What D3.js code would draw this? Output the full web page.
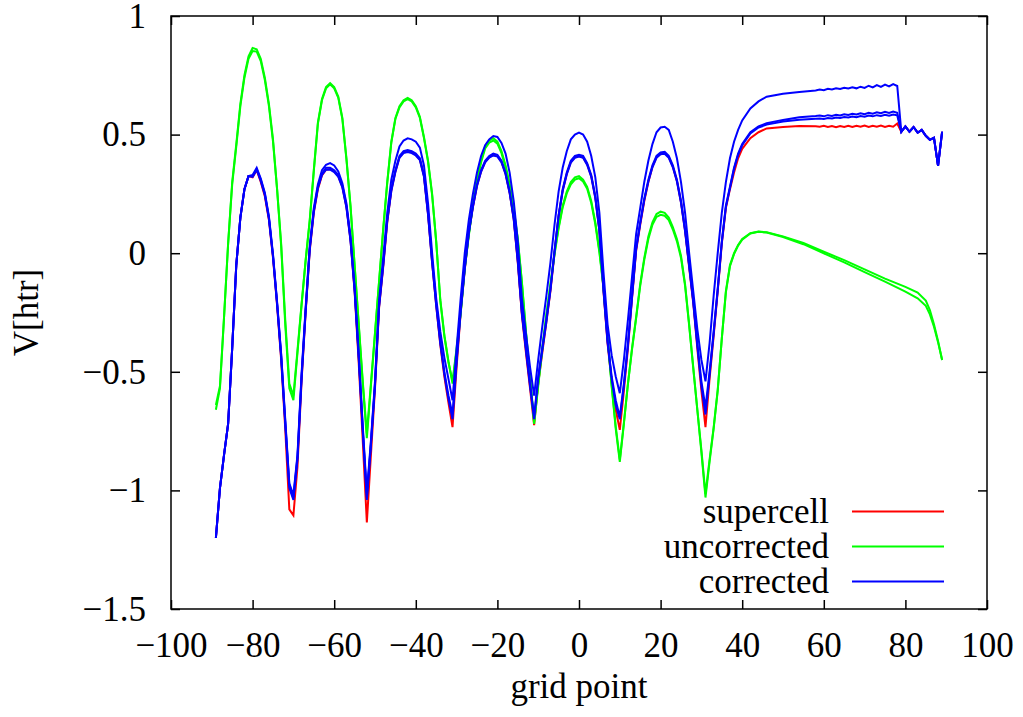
<!DOCTYPE html>
<html>
<head>
<meta charset="utf-8">
<script src="https://cdn.jsdelivr.net/npm/d3@7"></script>
<style>
  body { margin: 0; background: #fff; }
  text { font-family: "Liberation Serif", "Times New Roman", serif; }
</style>
</head>
<body>
<svg id="chart" width="1023" height="717"></svg>
<script>
// grid points -89..40, one value per point
var gridWave = d3.range(-89, 41);

var redWave = [
  -1.20, -0.99, -0.85, -0.72, -0.40, -0.05, 0.15, 0.27, 0.325, 0.32,
  0.35, 0.30, 0.24, 0.14, -0.02, -0.22, -0.45, -0.74, -1.08, -1.105,
  -0.90, -0.54, -0.25, 0.01, 0.17, 0.27, 0.328, 0.352, 0.355, 0.345,
  0.325, 0.28, 0.195, 0.055, -0.16, -0.46, -0.79, -1.135, -0.85, -0.57,
  -0.23, -0.06, 0.13, 0.265, 0.345, 0.405, 0.425, 0.43, 0.425, 0.415,
  0.395, 0.325, 0.165, -0.04, -0.22, -0.385, -0.52, -0.63, -0.733, -0.48,
  -0.25, -0.07, 0.085, 0.195, 0.285, 0.345, 0.385, 0.405, 0.415, 0.41,
  0.385, 0.335, 0.255, 0.145, -0.04, -0.26, -0.42, -0.57, -0.725, -0.55,
  -0.42, -0.29, -0.16, 0.0, 0.155, 0.265, 0.335, 0.385, 0.405, 0.41,
  0.405, 0.375, 0.325, 0.235, 0.095, -0.16, -0.38, -0.54, -0.66, -0.745,
  -0.58, -0.40, -0.19, 0.01, 0.12, 0.22, 0.30, 0.365, 0.405, 0.42,
  0.422, 0.405, 0.365, 0.305, 0.215, 0.095, -0.06, -0.21, -0.40, -0.58,
  -0.733, -0.53, -0.35, -0.16, 0.04, 0.19, 0.27, 0.34, 0.40, 0.44
];

var greenWaveA = [
  -0.66, -0.57, -0.27, 0.04, 0.30, 0.46, 0.63, 0.75, 0.83, 0.865,
  0.86, 0.82, 0.74, 0.63, 0.48, 0.27, 0.03, -0.30, -0.57, -0.62,
  -0.42, -0.22, -0.03, 0.14, 0.35, 0.55, 0.65, 0.70, 0.717, 0.70,
  0.66, 0.57, 0.40, 0.20, -0.05, -0.30, -0.55, -0.78, -0.56, -0.34,
  -0.12, 0.10, 0.30, 0.47, 0.57, 0.62, 0.645, 0.655, 0.645, 0.62,
  0.575, 0.49, 0.39, 0.25, 0.05, -0.20, -0.35, -0.46, -0.54, -0.40,
  -0.25, -0.06, 0.08, 0.21, 0.31, 0.39, 0.45, 0.475, 0.485, 0.47,
  0.43, 0.37, 0.29, 0.19, 0.06, -0.12, -0.33, -0.52, -0.71, -0.55,
  -0.40, -0.26, -0.13, 0.0, 0.11, 0.20, 0.26, 0.30, 0.32, 0.325,
  0.31, 0.28, 0.22, 0.13, 0.01, -0.14, -0.35, -0.56, -0.74, -0.88,
  -0.72, -0.55, -0.40, -0.27, -0.13, -0.02, 0.07, 0.13, 0.165, 0.175,
  0.17, 0.15, 0.11, 0.06, -0.01, -0.13, -0.30, -0.48, -0.66, -0.84,
  -1.03, -0.88, -0.74, -0.58, -0.36, -0.16, -0.05, 0.0, 0.035, 0.06
];

var greenWaveB = [
  -0.64, -0.56, -0.27, 0.04, 0.29, 0.45, 0.62, 0.74, 0.82, 0.852,
  0.85, 0.81, 0.73, 0.62, 0.47, 0.27, 0.04, -0.28, -0.55, -0.60,
  -0.41, -0.215, -0.03, 0.135, 0.345, 0.545, 0.645, 0.695, 0.712, 0.695,
  0.655, 0.565, 0.395, 0.195, -0.05, -0.295, -0.54, -0.76, -0.55, -0.335,
  -0.12, 0.098, 0.296, 0.466, 0.566, 0.615, 0.64, 0.65, 0.64, 0.615,
  0.57, 0.485, 0.385, 0.245, 0.048, -0.195, -0.345, -0.455, -0.55, -0.41,
  -0.255, -0.065, 0.075, 0.205, 0.303, 0.382, 0.442, 0.466, 0.475, 0.462,
  0.422, 0.363, 0.284, 0.185, 0.056, -0.125, -0.335, -0.525, -0.72, -0.56,
  -0.405, -0.265, -0.135, -0.005, 0.104, 0.193, 0.252, 0.29, 0.31, 0.316,
  0.302, 0.272, 0.212, 0.122, 0.003, -0.145, -0.35, -0.555, -0.73, -0.87,
  -0.715, -0.55, -0.405, -0.275, -0.138, -0.028, 0.06, 0.12, 0.153, 0.162,
  0.158, 0.14, 0.10, 0.05, -0.02, -0.138, -0.305, -0.485, -0.66, -0.83,
  -1.015, -0.87, -0.735, -0.575, -0.36, -0.165, -0.055, -0.004, 0.032, 0.057
];

var blueWaveTop = [
  -1.20, -0.99, -0.85, -0.72, -0.40, -0.05, 0.15, 0.27, 0.325, 0.33,
  0.36, 0.315, 0.255, 0.155, -0.005, -0.205, -0.425, -0.70, -0.97, -1.02,
  -0.85, -0.51, -0.23, 0.03, 0.19, 0.29, 0.35, 0.373, 0.38, 0.37,
  0.345, 0.295, 0.21, 0.07, -0.14, -0.42, -0.73, -1.01, -0.79, -0.54,
  -0.20, -0.02, 0.17, 0.31, 0.39, 0.45, 0.475, 0.484, 0.48, 0.47,
  0.445, 0.37, 0.21, 0.0, -0.19, -0.33, -0.44, -0.53, -0.62, -0.40,
  -0.19, 0.0, 0.14, 0.25, 0.34, 0.41, 0.455, 0.48, 0.494, 0.49,
  0.465, 0.42, 0.34, 0.22, 0.05, -0.19, -0.34, -0.48, -0.60, -0.45,
  -0.31, -0.18, -0.04, 0.12, 0.26, 0.36, 0.43, 0.48, 0.50, 0.508,
  0.50, 0.47, 0.41, 0.32, 0.17, -0.08, -0.30, -0.43, -0.52, -0.59,
  -0.45, -0.28, -0.10, 0.08, 0.19, 0.30, 0.39, 0.46, 0.51, 0.53,
  0.533, 0.52, 0.47, 0.40, 0.30, 0.17, 0.0, -0.16, -0.32, -0.45,
  -0.54, -0.38, -0.18, 0.0, 0.17, 0.30, 0.40, 0.47, 0.52, 0.56
];

var blueWaveLow1 = [
  -1.20, -0.99, -0.85, -0.72, -0.40, -0.05, 0.15, 0.27, 0.325, 0.325,
  0.355, 0.31, 0.25, 0.15, -0.01, -0.21, -0.43, -0.71, -0.98, -1.03,
  -0.86, -0.52, -0.24, 0.02, 0.18, 0.28, 0.335, 0.36, 0.36, 0.35,
  0.33, 0.285, 0.20, 0.06, -0.15, -0.43, -0.74, -1.03, -0.80, -0.55,
  -0.22, -0.05, 0.14, 0.27, 0.35, 0.41, 0.43, 0.435, 0.43, 0.42,
  0.40, 0.33, 0.17, -0.03, -0.21, -0.37, -0.50, -0.60, -0.68, -0.45,
  -0.24, -0.06, 0.09, 0.20, 0.29, 0.35, 0.39, 0.41, 0.42, 0.415,
  0.39, 0.34, 0.26, 0.15, -0.03, -0.25, -0.40, -0.55, -0.69, -0.52,
  -0.40, -0.28, -0.15, 0.01, 0.16, 0.27, 0.34, 0.39, 0.41, 0.415,
  0.41, 0.38, 0.33, 0.24, 0.10, -0.15, -0.37, -0.52, -0.62, -0.69,
  -0.55, -0.38, -0.18, 0.02, 0.13, 0.23, 0.31, 0.37, 0.41, 0.425,
  0.427, 0.41, 0.37, 0.31, 0.22, 0.10, -0.05, -0.20, -0.38, -0.54,
  -0.65, -0.50, -0.33, -0.15, 0.05, 0.20, 0.28, 0.36, 0.42, 0.46
];

var blueWaveLow2 = [
  -1.20, -0.99, -0.85, -0.72, -0.40, -0.05, 0.15, 0.27, 0.325, 0.322,
  0.352, 0.305, 0.245, 0.145, -0.015, -0.215, -0.44, -0.72, -0.99, -1.04,
  -0.87, -0.53, -0.245, 0.015, 0.175, 0.275, 0.33, 0.352, 0.352, 0.342,
  0.322, 0.277, 0.192, 0.052, -0.155, -0.44, -0.75, -1.04, -0.81, -0.56,
  -0.225, -0.055, 0.135, 0.262, 0.342, 0.402, 0.422, 0.427, 0.422, 0.412,
  0.392, 0.322, 0.162, -0.04, -0.22, -0.38, -0.51, -0.615, -0.70, -0.46,
  -0.245, -0.065, 0.085, 0.195, 0.283, 0.343, 0.383, 0.403, 0.412, 0.407,
  0.383, 0.333, 0.253, 0.143, -0.035, -0.255, -0.41, -0.56, -0.70, -0.53,
  -0.41, -0.29, -0.155, 0.005, 0.155, 0.262, 0.332, 0.382, 0.402, 0.407,
  0.402, 0.372, 0.322, 0.232, 0.093, -0.155, -0.375, -0.53, -0.64, -0.70,
  -0.56, -0.39, -0.185, 0.015, 0.125, 0.225, 0.302, 0.362, 0.402, 0.417,
  0.419, 0.402, 0.362, 0.302, 0.212, 0.092, -0.055, -0.205, -0.39, -0.56,
  -0.68, -0.515, -0.34, -0.155, 0.045, 0.195, 0.275, 0.355, 0.415, 0.455
];

// tails beyond grid point 40
var tailBlueX = [42, 44, 46, 50, 54, 58,
  59, 60, 61, 62, 63, 64, 65, 66, 67, 68,
  69, 70, 71, 72, 73, 74, 75, 76, 77, 78,
  79, 80, 81, 82, 83, 84, 85, 86, 87, 88, 89];
var sharedEnd = [0.512, 0.535, 0.512, 0.532, 0.508, 0.52, 0.495, 0.478, 0.487, 0.368, 0.512];

var redTail = [0.485, 0.51, 0.526, 0.532, 0.536, 0.535,
  0.533, 0.537, 0.532, 0.536, 0.531, 0.536, 0.532, 0.537, 0.532, 0.537,
  0.533, 0.538, 0.532, 0.537, 0.533, 0.538, 0.532, 0.537, 0.533, 0.547].concat(sharedEnd);
var blueTailTop = [0.61, 0.64, 0.66, 0.672, 0.68, 0.686,
  0.690, 0.687, 0.693, 0.690, 0.695, 0.692, 0.697, 0.694, 0.699, 0.695,
  0.702, 0.697, 0.706, 0.699, 0.709, 0.701, 0.711, 0.703, 0.713, 0.705].concat(sharedEnd);
var blueTailLow1 = [0.51, 0.535, 0.548, 0.562, 0.573, 0.578,
  0.580, 0.577, 0.582, 0.579, 0.584, 0.581, 0.586, 0.583, 0.588, 0.585,
  0.590, 0.586, 0.592, 0.588, 0.594, 0.590, 0.596, 0.591, 0.597, 0.592].concat(sharedEnd);
var blueTailLow2 = [0.505, 0.53, 0.542, 0.555, 0.563, 0.567,
  0.568, 0.566, 0.570, 0.568, 0.572, 0.570, 0.574, 0.572, 0.576, 0.573,
  0.578, 0.575, 0.580, 0.577, 0.582, 0.579, 0.584, 0.580, 0.585, 0.581].concat(sharedEnd);

var tailGreenX = [42, 44, 46, 50, 55, 60, 65, 70, 75, 80, 83, 85, 86, 87, 88, 89];
var greenTailA = [0.084, 0.091, 0.088, 0.071, 0.043, 0.006, -0.029, -0.068, -0.107, -0.142, -0.166, -0.20, -0.24, -0.30, -0.37, -0.45];
var greenTailB = [0.083, 0.09, 0.087, 0.068, 0.038, -0.001, -0.039, -0.08, -0.12, -0.162, -0.19, -0.222, -0.258, -0.31, -0.375, -0.45];

var xTicks = d3.range(-100, 101, 20);
var yTicks = [-1.5, -1, -0.5, 0, 0.5, 1];
var legendNames = ["supercell", "uncorrected", "corrected"];
var legendColors = ["#ff0000", "#00ff00", "#0000ff"];

function join(xw, yw, xt, yt) {
  return xw.map((g, i) => [g, yw[i]]).concat(xt.map((g, i) => [g, yt[i]]));
}

var curves = [
  {c: "#ff0000", d: join(gridWave, redWave, tailBlueX, redTail)},
  {c: "#00ff00", d: join(gridWave, greenWaveA, tailGreenX, greenTailA)},
  {c: "#00ff00", d: join(gridWave, greenWaveB, tailGreenX, greenTailB)},
  {c: "#0000ff", d: join(gridWave, blueWaveLow2, tailBlueX, blueTailLow2)},
  {c: "#0000ff", d: join(gridWave, blueWaveLow1, tailBlueX, blueTailLow1)},
  {c: "#0000ff", d: join(gridWave, blueWaveTop, tailBlueX, blueTailTop)}
];

var svg = d3.select("#chart");
var plotL = 171, plotR = 987, plotT = 16, plotB = 609;
var fontSize = 35;

var scX = d3.scaleLinear().domain([-100, 100]).range([plotL, plotR]);
var scY = d3.scaleLinear().domain([-1.5, 1]).range([plotB, plotT]);
var fmt = d3.format("~g");

var plot = svg.append("g");
var lineMaker = d3.line().x(d => scX(d[0])).y(d => scY(d[1]));

plot.selectAll("path")
    .data(curves).enter().append("path")
    .attr("fill", "none")
    .attr("stroke", d => d.c)
    .attr("stroke-width", 2)
    .attr("stroke-linejoin", "miter")
    .attr("d", d => lineMaker(d.d));

// axes, ticks pointing inward
var xAxis = svg.append("g")
    .attr("transform", "translate(0," + plotB + ")")
    .call(d3.axisBottom(scX).tickValues(xTicks).tickFormat(fmt).tickSizeInner(-9).tickSizeOuter(0).tickPadding(48));
xAxis.selectAll("text").attr("dy", "0").style("font-size", fontSize + "px").attr("fill", "#000");

svg.append("g")
    .attr("transform", "translate(0," + plotT + ")")
    .call(d3.axisTop(scX).tickValues(xTicks).tickFormat("").tickSizeInner(-9).tickSizeOuter(0));

var yAxis = svg.append("g")
    .attr("transform", "translate(" + plotL + ",0)")
    .call(d3.axisLeft(scY).tickValues(yTicks).tickFormat(fmt).tickSizeInner(-9).tickSizeOuter(0).tickPadding(25));
yAxis.selectAll("text").attr("dy", "0.32em").style("font-size", fontSize + "px").attr("fill", "#000");

svg.append("g")
    .attr("transform", "translate(" + plotR + ",0)")
    .call(d3.axisRight(scY).tickValues(yTicks).tickFormat("").tickSizeInner(-9).tickSizeOuter(0));

svg.selectAll(".domain").remove();
svg.selectAll(".tick line").attr("stroke", "#000").attr("stroke-width", 1.5);

svg.append("rect")
    .attr("x", plotL).attr("y", plotT)
    .attr("width", plotR - plotL).attr("height", plotB - plotT)
    .attr("fill", "none").attr("stroke", "#000").attr("stroke-width", 1.5);

// axis labels
svg.append("text")
    .attr("x", (plotL + plotR) / 2).attr("y", 698)
    .attr("text-anchor", "middle")
    .style("font-size", fontSize + "px")
    .text("grid point");

svg.append("text")
    .attr("transform", "translate(38," + ((plotT + plotB) / 2) + ") rotate(-90)")
    .attr("text-anchor", "middle")
    .style("font-size", fontSize + "px")
    .text("V[htr]");

// legend
var legend = svg.append("g");
legendNames.forEach(function(name, i) {
  var yy = 511.5 + i * 35;
  legend.append("text")
      .attr("x", 829).attr("y", yy + 11)
      .attr("text-anchor", "end")
      .style("font-size", fontSize + "px")
      .text(name);
  legend.append("line")
      .attr("x1", 852).attr("x2", 944)
      .attr("y1", yy).attr("y2", yy)
      .attr("stroke", legendColors[i]).attr("stroke-width", 2);
});
</script>
</body>
</html>
